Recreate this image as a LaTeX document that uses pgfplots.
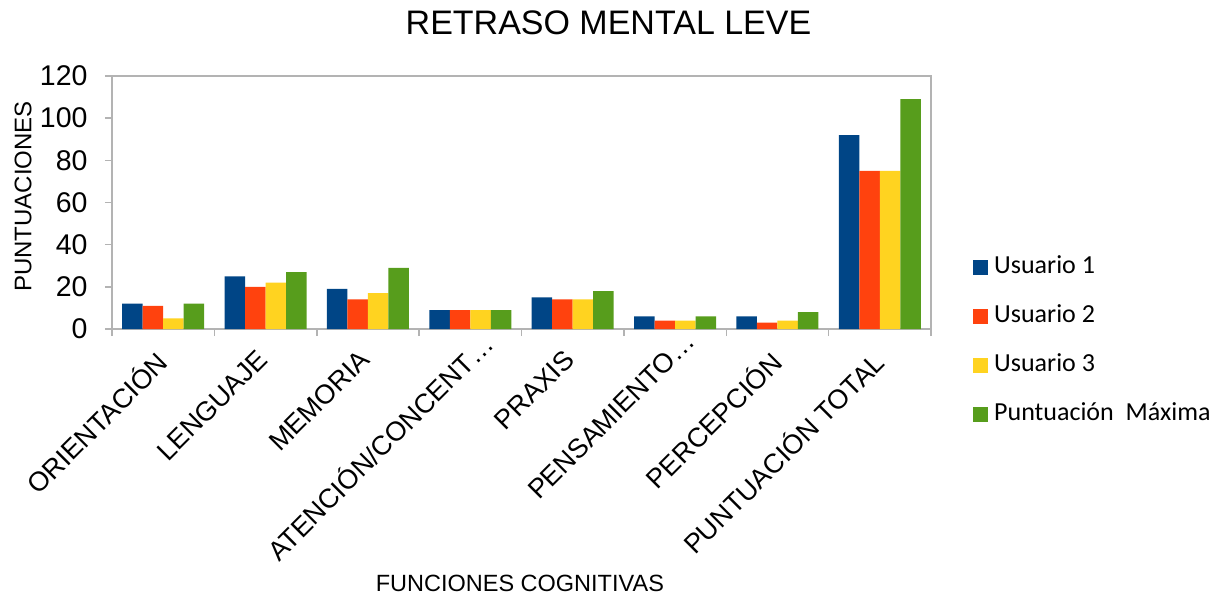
\documentclass[border=0pt]{standalone}
\usepackage{pgfplots}
\usepackage{pgfplotstable}
\pgfplotsset{compat=1.18}
\usepackage{fontspec}
\setmainfont{Liberation Sans}
\newfontfamily\legendfont{Carlito}
\definecolor{c1}{HTML}{004586}
\definecolor{c2}{HTML}{FF420E}
\definecolor{c3}{HTML}{FFD320}
\definecolor{c4}{HTML}{579D1C}
\definecolor{framegray}{HTML}{B3B3B3}
\pgfplotstableread{
cat u1 u2 u3 mx
0 12 11 5 12
1 25 20 22 27
2 19 14 17 29
3 9 9 9 9
4 15 14 14 18
5 6 4 4 6
6 6 3 4 8
7 92 75 75 109
}\datatable
\begin{document}
\begin{tikzpicture}[x=1pt,y=1pt]
\useasboundingbox (0,0) rectangle (1229,-598);
\begin{axis}[
  at={(112pt,-329pt)}, anchor=south west,
  scale only axis, width=819pt, height=253pt,
  ybar=0pt, bar width=20.5pt,
  xmin=-0.5, xmax=7.5, ymin=0, ymax=120,
  xtick={-0.5,0.5,...,7.5},
  x tick label as interval,
  xticklabels={ORIENTACIÓN, LENGUAJE, MEMORIA, {ATENCIÓN/CONCENT…\hspace*{-26pt}}, PRAXIS, {PENSAMIENTO…\hspace*{-26pt}}, PERCEPCIÓN, PUNTUACIÓN TOTAL},
  ytick={0,20,...,120},
  tick align=outside, xtick pos=bottom, ytick pos=left,
  major tick length=7pt,
  axis line style={framegray, line width=1.5pt},
  tick style={framegray, line width=1.5pt},
  /pgf/number format/assume math mode=true,
  yticklabel style={font=\fontsize{28.5}{33}\selectfont, xshift=-14pt},
  xticklabel style={font=\fontsize{27}{31}\selectfont, xshift=-10pt, yshift=-9pt, rotate=45, anchor=north east, inner sep=2pt},
  xlabel={FUNCIONES COGNITIVAS},
  xlabel style={font=\fontsize{23.5}{27}\selectfont, at={(axis description cs:0.498,-1.036)}, anchor=base},
  ylabel={PUNTUACIONES},
  ylabel style={font=\fontsize{24}{28}\selectfont, at={(axis description cs:-0.0985,0.524)}, anchor=base},
  legend style={font=\legendfont\fontsize{26}{30}\selectfont, draw=none, fill=none,
    at={(axis description cs:1.0513,0.29)}, anchor=north west, inner sep=0pt,
    row sep=25pt, column sep=4pt, nodes={text height=18pt, text depth=6pt, inner ysep=0pt}},
  legend cell align=left,
  legend image code/.code={\fill[#1] (0pt,-7.5pt) rectangle (15pt,7.5pt);},
]
\addplot[fill=c1, draw=none] table[x=cat, y=u1] {\datatable};
\addplot[fill=c2, draw=none] table[x=cat, y=u2] {\datatable};
\addplot[fill=c3, draw=none] table[x=cat, y=u3] {\datatable};
\addplot[fill=c4, draw=none] table[x=cat, y=mx] {\datatable};
\legend{Usuario 1, Usuario 2, Usuario 3, Puntuación\ \ Máxima}
\end{axis}
\node[anchor=base, font=\fontsize{34}{38}\selectfont] at (608.5,-34.5) {RETRASO MENTAL LEVE};
\end{tikzpicture}
\end{document}
